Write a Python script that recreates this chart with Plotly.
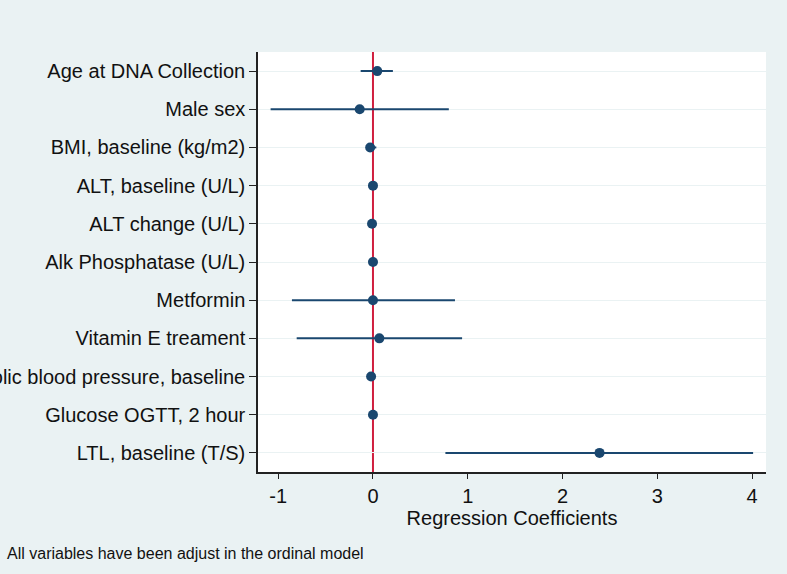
import plotly.graph_objects as go

variables = [
    "Age at DNA Collection",
    "Male sex",
    "BMI, baseline (kg/m2)",
    "ALT, baseline (U/L)",
    "ALT change (U/L)",
    "Alk Phosphatase (U/L)",
    "Metformin",
    "Vitamin E treament",
    "Systolic blood pressure, baseline",
    "Glucose OGTT, 2 hour",
    "LTL, baseline (T/S)",
]
coef = [0.045, -0.14, -0.03, 0.0, -0.01, 0.0, 0.0, 0.067, -0.02, 0.0, 2.39]
ci_low = [-0.13, -1.08, -0.07, -0.005, -0.015, -0.004, -0.855, -0.805, -0.025, -0.004, 0.764]
ci_high = [0.21, 0.80, 0.035, 0.005, -0.005, 0.004, 0.865, 0.94, -0.015, 0.004, 4.01]

x_ticks = [-1, 0, 1, 2, 3, 4]

navy = "#1A476F"
bg = "#EAF2F3"

err_plus = [h - c for h, c in zip(ci_high, coef)]
err_minus = [c - l for c, l in zip(coef, ci_low)]

fig = go.Figure()
fig.add_trace(go.Scatter(
    x=coef, y=variables, mode="markers",
    marker=dict(color=navy, size=10, line=dict(width=0)),
    error_x=dict(type="data", symmetric=False, array=err_plus, arrayminus=err_minus,
                 color=navy, thickness=2, width=0),
    showlegend=False, cliponaxis=False,
))

fig.add_shape(type="line", xref="x", yref="paper", x0=0, x1=0, y0=0, y1=1,
              line=dict(color="#D01F3F", width=2), layer="between")

fig.add_annotation(text="All variables have been adjust in the ordinal model",
                   xref="paper", yref="paper", x=-253/508, y=-81/420,
                   xanchor="left", yanchor="middle", showarrow=False,
                   font=dict(size=16, color="#111111"))

fig.update_layout(
    width=787, height=574,
    margin=dict(l=258, r=21, t=52, b=102, autoexpand=False),
    paper_bgcolor=bg, plot_bgcolor="white",
    font=dict(family="Liberation Sans, Arial, sans-serif", size=20, color="#111111"),
)
fig.update_xaxes(
    range=[-1.213, 4.146], tickvals=x_ticks, ticktext=[str(t) for t in x_ticks],
    showgrid=False, zeroline=False,
    showline=True, linecolor="#222222", linewidth=1.5,
    ticks="outside", ticklen=5, tickwidth=1.2, tickcolor="#222222",
    title=dict(text="Regression Coefficients", standoff=2, font=dict(size=20)),
    tickfont=dict(size=20),
)
fig.update_yaxes(
    type="category", categoryorder="array", categoryarray=variables,
    range=[10.5, -0.5],
    showgrid=True, gridcolor=bg, gridwidth=1.2,
    showline=True, linecolor="#222222", linewidth=1.5,
    ticks="outside", ticklen=7, tickwidth=1.2, tickcolor="#222222",
    tickfont=dict(size=20), automargin=False,
)

fig.write_html("out.html", config={"displayModeBar": False},
               post_script="document.body.style.margin='0';document.body.style.overflow='hidden';")
